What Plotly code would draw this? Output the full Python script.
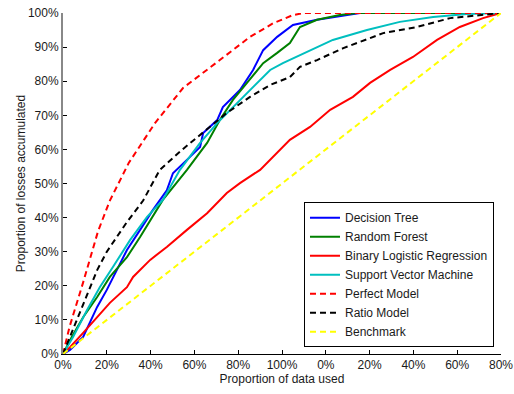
import plotly.graph_objects as go

# x: proportion of data used (axis 0..1), y: proportion of losses accumulated
dt_x = [0, 0.016, 0.046, 0.078, 0.1, 0.123, 0.146, 0.176, 0.205, 0.237, 0.251, 0.29, 0.313, 0.32, 0.352, 0.365, 0.404, 0.434, 0.457, 0.489, 0.525, 0.58, 0.655, 0.678, 1.0]
dt_y = [0, 0.012, 0.05, 0.138, 0.188, 0.246, 0.305, 0.364, 0.422, 0.48, 0.53, 0.578, 0.607, 0.648, 0.686, 0.724, 0.774, 0.833, 0.891, 0.93, 0.965, 0.98, 0.994, 1.0, 1.0]

rf_x = [0, 0.02, 0.046, 0.078, 0.107, 0.146, 0.176, 0.215, 0.228, 0.283, 0.329, 0.358, 0.388, 0.42, 0.45, 0.457, 0.489, 0.518, 0.541, 0.58, 0.632, 0.671, 1.0]
rf_y = [0, 0.05, 0.108, 0.167, 0.226, 0.284, 0.343, 0.422, 0.452, 0.54, 0.619, 0.686, 0.745, 0.795, 0.842, 0.853, 0.883, 0.912, 0.959, 0.98, 0.994, 1.0, 1.0]

blr_x = [0, 0.016, 0.046, 0.078, 0.107, 0.146, 0.16, 0.199, 0.237, 0.283, 0.329, 0.374, 0.404, 0.45, 0.473, 0.518, 0.564, 0.61, 0.662, 0.701, 0.747, 0.799, 0.854, 0.906, 0.959, 1.0]
blr_y = [0, 0.02, 0.062, 0.108, 0.15, 0.196, 0.226, 0.276, 0.314, 0.364, 0.413, 0.472, 0.501, 0.54, 0.569, 0.628, 0.666, 0.716, 0.754, 0.795, 0.833, 0.871, 0.921, 0.959, 0.985, 1.0]

svm_x = [0, 0.023, 0.055, 0.084, 0.114, 0.153, 0.192, 0.228, 0.267, 0.313, 0.352, 0.388, 0.42, 0.45, 0.473, 0.502, 0.564, 0.616, 0.694, 0.769, 0.845, 0.922, 1.0]
svm_y = [0, 0.05, 0.129, 0.196, 0.255, 0.334, 0.402, 0.452, 0.54, 0.619, 0.677, 0.724, 0.765, 0.803, 0.833, 0.853, 0.891, 0.921, 0.95, 0.974, 0.988, 0.997, 1.0]

perfect_x = [0, 0.015, 0.046, 0.08, 0.107, 0.15, 0.21, 0.274, 0.358, 0.427, 0.48, 0.525, 0.55, 1.0]
perfect_y = [0, 0.08, 0.21, 0.36, 0.45, 0.56, 0.677, 0.78, 0.862, 0.93, 0.97, 0.994, 1.0, 1.0]

ratio_x = [0, 0.011, 0.039, 0.078, 0.1, 0.146, 0.183, 0.221, 0.271, 0.32, 0.374, 0.427, 0.473, 0.518, 0.541, 0.58, 0.64, 0.731, 0.808, 0.884, 0.959, 1.0]
ratio_y = [0, 0.035, 0.123, 0.246, 0.3, 0.387, 0.45, 0.54, 0.598, 0.651, 0.707, 0.754, 0.789, 0.812, 0.842, 0.862, 0.897, 0.941, 0.959, 0.985, 0.994, 1.0]

bench_x = [0, 1.0]
bench_y = [0, 1.0]

tick_vals = [0, 0.1, 0.2, 0.3, 0.4, 0.5, 0.6, 0.7, 0.8, 0.9, 1.0]
x_tick_text = ["0%", "20%", "40%", "60%", "80%", "100%", "0%", "20%", "40%", "60%", "80%"]
y_tick_text = ["0%", "10%", "20%", "30%", "40%", "50%", "60%", "70%", "80%", "90%", "100%"]

series = [
    ("Decision Tree", dt_x, dt_y, "#0000ff", "solid"),
    ("Random Forest", rf_x, rf_y, "#008000", "solid"),
    ("Binary Logistic Regression", blr_x, blr_y, "#ff0000", "solid"),
    ("Support Vector Machine", svm_x, svm_y, "#00bfbf", "solid"),
    ("Perfect Model", perfect_x, perfect_y, "#ff0000", "6px,4px"),
    ("Ratio Model", ratio_x, ratio_y, "#000000", "6px,4px"),
    ("Benchmark", bench_x, bench_y, "#ffff00", "6px,4px"),
]

fig = go.Figure()
for name, xs, ys, color, dash in series:
    fig.add_trace(go.Scatter(x=xs, y=ys, mode="lines", name=name,
                             line=dict(color=color, width=2, dash=dash)))

font = dict(family="Liberation Sans, Arial, sans-serif", size=12, color="#1a1a1a")
fig.update_layout(
    width=514, height=394,
    margin=dict(l=63, r=13, t=13, b=40),
    paper_bgcolor="white", plot_bgcolor="white",
    font=font,
    showlegend=True,
    legend=dict(x=0.984, y=0.02, xanchor="right", yanchor="bottom",
                bgcolor="white", bordercolor="black", borderwidth=1,
                font=font, tracegroupgap=0),
)
fig.update_xaxes(range=[0, 1], tickvals=tick_vals, ticktext=x_tick_text,
                 ticks="inside", ticklen=4, tickcolor="black",
                 showline=True, linecolor="black", linewidth=1,
                 showgrid=False, zeroline=False, automargin=False,
                 tickfont=font,
                 title=dict(text="Proportion of data used", standoff=0, font=font))
fig.update_yaxes(range=[0, 1], tickvals=tick_vals, ticktext=y_tick_text,
                 ticks="inside", ticklen=4, tickcolor="black",
                 showline=True, linecolor="#888", linewidth=2,
                 showgrid=False, zeroline=False, automargin=False,
                 tickfont=font,
                 title=dict(text="Proportion of losses accumulated", standoff=0, font=font))

fig.write_html("out.html",
               config={"displayModeBar": False},
               post_script="document.body.style.margin='0';document.body.style.overflow='hidden';")
